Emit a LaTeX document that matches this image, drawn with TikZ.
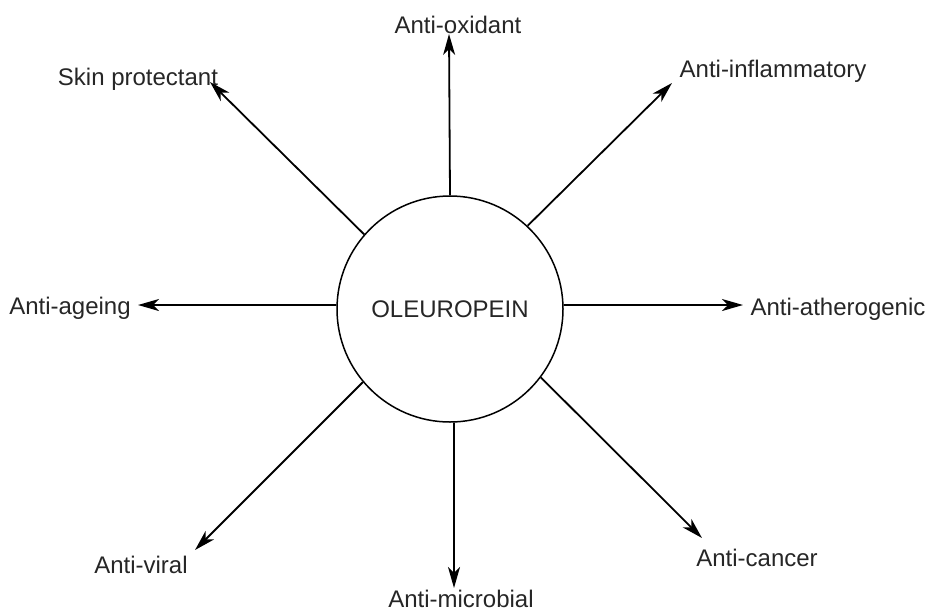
\documentclass[tikz,border=0pt]{standalone}
\usepackage{fontspec}
\setmainfont{Liberation Sans}
\usetikzlibrary{arrows.meta}
\begin{document}
\begin{tikzpicture}[x=1pt,y=-1pt,
  lbl/.style={inner sep=0pt,anchor=base,font=\fontsize{24}{27}\selectfont,text=black!85},
  arr/.style={line width=1.8pt,-{Stealth[length=21pt,width=12pt,inset=6pt]}},
  hub/.style={circle,draw,line width=1.5pt,minimum size=226pt,inner sep=0pt,font=\fontsize{24}{27}\selectfont,text=black!85}]
\useasboundingbox (0,0) rectangle (928,611);
\node[hub] (c) at (450,309) {OLEUROPEIN};
\node[lbl] (ox) at (458,33) {Anti-oxidant};
\node[lbl] (ag) at (70,314) {Anti-ageing};
\node[lbl] (at) at (838,315) {Anti-atherogenic};
\node[lbl] (in) at (773,77) {Anti-inflammatory};
\node[lbl] (sk) at (138,85) {Skin protectant};
\node[lbl] (ca) at (757,566) {Anti-cancer};
\node[lbl] (vi) at (141,573) {Anti-viral};
\node[lbl] (mi) at (461,607) {Anti-microbial};
\coordinate (tox) at (449,34);
\coordinate (tag) at (138,305);
\coordinate (tat) at (743,305);
\coordinate (tin) at (672,83);
\coordinate (tsk) at (210,82);
\coordinate (tca) at (702,538);
\coordinate (tvi) at (195,550);
\coordinate (tmi) at (454,588);
\draw[arr] (c.90) -- (tox);
\draw[arr] (c.178) -- (tag);
\draw[arr] (c.2) -- (tat);
\draw[arr] (c.47) -- (tin);
\draw[arr] (c.139) -- (tsk);
\draw[arr] (c.323) -- (tca);
\draw[arr] (c.220) -- (tvi);
\draw[arr] (c.272) -- (tmi);
\end{tikzpicture}
\end{document}
